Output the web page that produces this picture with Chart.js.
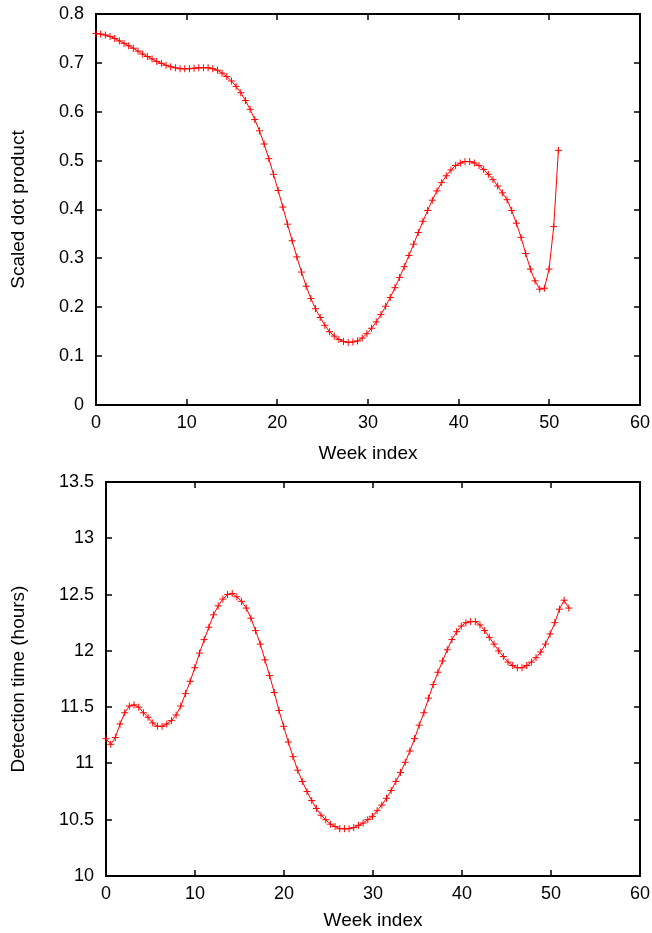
<!DOCTYPE html>
<html>
<head>
<meta charset="utf-8">
<script src="https://cdn.jsdelivr.net/npm/chart.js@4"></script>
<style>
body{margin:0;background:#fff;}
canvas{position:absolute;left:0;}
#top{top:0}
#bottom{top:466px}
</style>
</head>
<body>
<canvas id="top" width="652" height="466"></canvas>
<canvas id="bottom" width="652" height="467"></canvas>
<script>
// both curves are 100 spline samples over the week range
const dotLastWeek = 51;
const detLastWeek = 52;

const dotProduct = [
  0.760,0.759,0.757,0.754,0.750,0.745,0.740,0.735,0.730,0.724,
  0.718,0.713,0.708,0.703,0.699,0.695,0.692,0.690,0.688,0.688,
  0.688,0.689,0.690,0.690,0.690,0.688,0.685,0.679,0.672,0.663,
  0.652,0.639,0.623,0.605,0.584,0.561,0.534,0.504,0.472,0.439,
  0.405,0.370,0.336,0.303,0.272,0.243,0.218,0.197,0.179,0.163,
  0.150,0.141,0.134,0.130,0.128,0.129,0.131,0.137,0.146,0.157,
  0.170,0.185,0.202,0.220,0.240,0.261,0.283,0.306,0.329,0.353,
  0.376,0.398,0.419,0.438,0.455,0.469,0.481,0.490,0.495,0.498,
  0.498,0.495,0.490,0.482,0.472,0.461,0.448,0.434,0.420,0.398,
  0.372,0.343,0.310,0.278,0.254,0.237,0.239,0.278,0.365,0.521
];

const detectionHours = [
  11.22,11.17,11.23,11.35,11.45,11.51,11.52,11.50,11.45,11.41,
  11.36,11.33,11.33,11.35,11.38,11.43,11.51,11.62,11.73,11.85,
  11.98,12.10,12.21,12.32,12.40,12.46,12.50,12.51,12.48,12.44,
  12.38,12.29,12.18,12.06,11.92,11.78,11.63,11.47,11.33,11.19,
  11.06,10.94,10.84,10.75,10.67,10.60,10.54,10.50,10.46,10.44,
  10.42,10.42,10.42,10.43,10.45,10.47,10.50,10.53,10.58,10.63,
  10.69,10.76,10.84,10.92,11.01,11.11,11.22,11.34,11.45,11.58,
  11.70,11.81,11.91,12.01,12.10,12.17,12.22,12.25,12.26,12.26,
  12.23,12.18,12.12,12.06,12.00,11.95,11.90,11.87,11.85,11.85,
  11.87,11.90,11.94,11.99,12.06,12.15,12.25,12.37,12.45,12.38
];

Chart.defaults.font.family = "'Liberation Sans', Arial, sans-serif";
Chart.defaults.font.size = 18;
Chart.defaults.color = '#000';

// gnuplot style frame: border on four sides, ticks pointing inwards
const frame = {
  id: 'frame',
  beforeDatasetsDraw(chart) {
    const {ctx, chartArea: a, scales: {x, y}} = chart;
    const len = 6;
    ctx.save();
    ctx.strokeStyle = '#000';
    ctx.lineWidth = 1.5;
    ctx.beginPath();
    x.ticks.forEach(t => {
      const px = Math.round(x.getPixelForValue(t.value));
      ctx.moveTo(px, a.bottom); ctx.lineTo(px, a.bottom - len);
      ctx.moveTo(px, a.top); ctx.lineTo(px, a.top + len);
    });
    y.ticks.forEach(t => {
      const py = Math.round(y.getPixelForValue(t.value));
      ctx.moveTo(a.left, py); ctx.lineTo(a.left + len, py);
      ctx.moveTo(a.right, py); ctx.lineTo(a.right - len, py);
    });
    ctx.stroke();
    ctx.lineWidth = 2;
    ctx.strokeRect(a.left, a.top, a.right - a.left, a.bottom - a.top);
    ctx.restore();
  }
};

function drawPanel(id, values, lastWeek, yMin, yMax, yStep, yTitle, yWidth, padTop, xHeight) {
  const pts = values.map((v, i) => ({x: i * lastWeek / (values.length - 1), y: v}));
  return new Chart(document.getElementById(id).getContext('2d'), {
    type: 'line',
    data: {
      datasets: [{
        data: pts,
        borderColor: '#ff0000',
        borderWidth: 1,
        pointStyle: 'cross',
        pointRadius: 3.5,
        pointBorderWidth: 1,
        pointBorderColor: '#ff0000',
        pointBackgroundColor: '#ff0000',
        tension: 0,
        fill: false,
        clip: false
      }]
    },
    options: {
      responsive: false,
      animation: false,
      devicePixelRatio: 1,
      layout: {padding: {top: padTop, right: 12, left: 0, bottom: 0}},
      plugins: {legend: {display: false}, tooltip: {enabled: false}},
      scales: {
        x: {
          type: 'linear', min: 0, max: 60,
          ticks: {stepSize: 10, padding: 7},
          grid: {display: false, drawTicks: false},
          border: {display: false},
          title: {display: true, text: 'Week index', font: {size: 19}, padding: {top: 0, bottom: 1}},
          afterFit(s) { s.height = xHeight; s.paddingLeft = 0; s.paddingRight = 0; }
        },
        y: {
          min: yMin, max: yMax,
          ticks: {stepSize: yStep, padding: 12, callback: v => String(Number(v.toFixed(2)))},
          grid: {display: false, drawTicks: false},
          border: {display: false},
          title: {display: true, text: yTitle, font: {size: 19}, padding: {top: 7, bottom: 0}},
          afterFit(s) { s.width = yWidth; s.paddingTop = 0; s.paddingBottom = 0; }
        }
      }
    },
    plugins: [frame]
  });
}

drawPanel('top', dotProduct, dotLastWeek, 0, 0.8, 0.1, 'Scaled dot product', 96, 14, 61);
drawPanel('bottom', detectionHours, detLastWeek, 10, 13.5, 0.5, 'Detection time (hours)', 106, 16, 57);
</script>
</body>
</html>
